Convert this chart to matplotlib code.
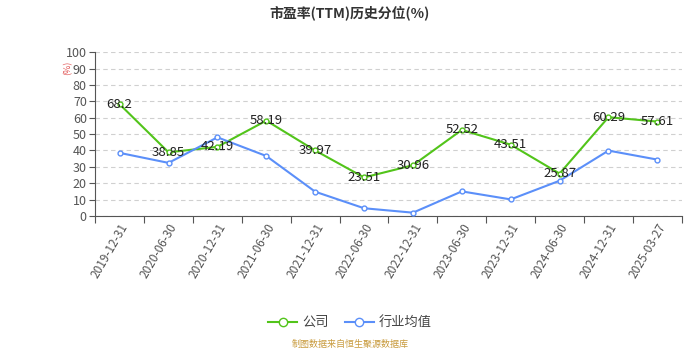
import matplotlib
matplotlib.use("Agg")
import matplotlib.pyplot as plt
import numpy as np

plt.rcParams['font.family'] = ['Noto Sans CJK SC', 'DejaVu Sans']

dates = ["2019-12-31", "2020-06-30", "2020-12-31", "2021-06-30", "2021-12-31",
         "2022-06-30", "2022-12-31", "2023-06-30", "2023-12-31", "2024-06-30",
         "2024-12-31", "2025-03-27"]
company = [68.2, 38.85, 42.19, 58.19, 39.97, 23.51, 30.96, 52.52, 43.51, 25.87, 60.29, 57.61]
industry = [38.5, 32.4, 48.0, 36.6, 14.8, 4.7, 2.0, 15.0, 10.1, 21.5, 39.9, 34.4]

green = "#52c41a"
blue = "#5b8ff9"

fig = plt.figure(figsize=(7, 3.5), dpi=100)
ax = fig.add_axes([0.136, 0.383, 0.838, 0.468])

x = np.arange(len(dates))
ax.plot(x, company, color=green, lw=1.5, marker="o", ms=3.5,
        markerfacecolor="white", markeredgecolor=green, markeredgewidth=1, zorder=3)
ax.plot(x, industry, color=blue, lw=1.5, marker="o", ms=3.5,
        markerfacecolor="white", markeredgecolor=blue, markeredgewidth=1, zorder=3)

# legend handles with bigger markers
ax.plot([], [], color=green, lw=1.5, marker="o", ms=6, markerfacecolor="white",
        markeredgecolor=green, label="公司")
ax.plot([], [], color=blue, lw=1.5, marker="o", ms=6, markerfacecolor="white",
        markeredgecolor=blue, label="行业均值")

for xi, v in zip(x, company):
    ax.text(xi, v, f"{v:g}", ha="center", va="center", fontsize=9.5, color="#222222", zorder=4)

ax.set_xlim(-0.5, len(dates) - 0.5)
ax.set_ylim(0, 100)
ax.set_yticks(range(0, 101, 10))
ax.set_xticks(np.arange(-0.5, len(dates), 1), minor=False)
ax.set_xticklabels([])
ax.set_xticks(x, minor=True)
ax.set_xticklabels(dates, minor=True, rotation=60, ha="right", rotation_mode="anchor",
                   fontsize=8.5, color="#555555")
ax.tick_params(axis="x", which="minor", length=0, pad=4)
ax.tick_params(axis="x", which="major", length=5, color="#555555")
ax.tick_params(axis="y", length=4, color="#555555", labelsize=9, labelcolor="#555555", pad=2)

ax.grid(axis="y", ls=(0, (4, 3)), color="#d0d0d0", lw=0.8)
ax.set_axisbelow(True)
for s in ["top", "right"]:
    ax.spines[s].set_visible(False)
for s in ["left", "bottom"]:
    ax.spines[s].set_color("#555555")

fig.text(0.097, 0.805, "(%)", color="#e05050", fontsize=6.5, rotation=90, ha="center", va="center")
fig.text(0.5, 0.965, "市盈率(TTM)历史分位(%)", ha="center", va="center",
         fontsize=10, fontweight="bold", color="#333333")

fig.legend(loc="center", bbox_to_anchor=(0.5, 0.078), ncol=2, frameon=False,
           fontsize=9.5, labelcolor="#444444", handlelength=2.2, columnspacing=1.2,
           handletextpad=0.4)
fig.text(0.5, 0.015, "制图数据来自恒生聚源数据库", ha="center", va="center",
         fontsize=6.5, color="#c89a3c")

fig.savefig("out.png", dpi=100)
